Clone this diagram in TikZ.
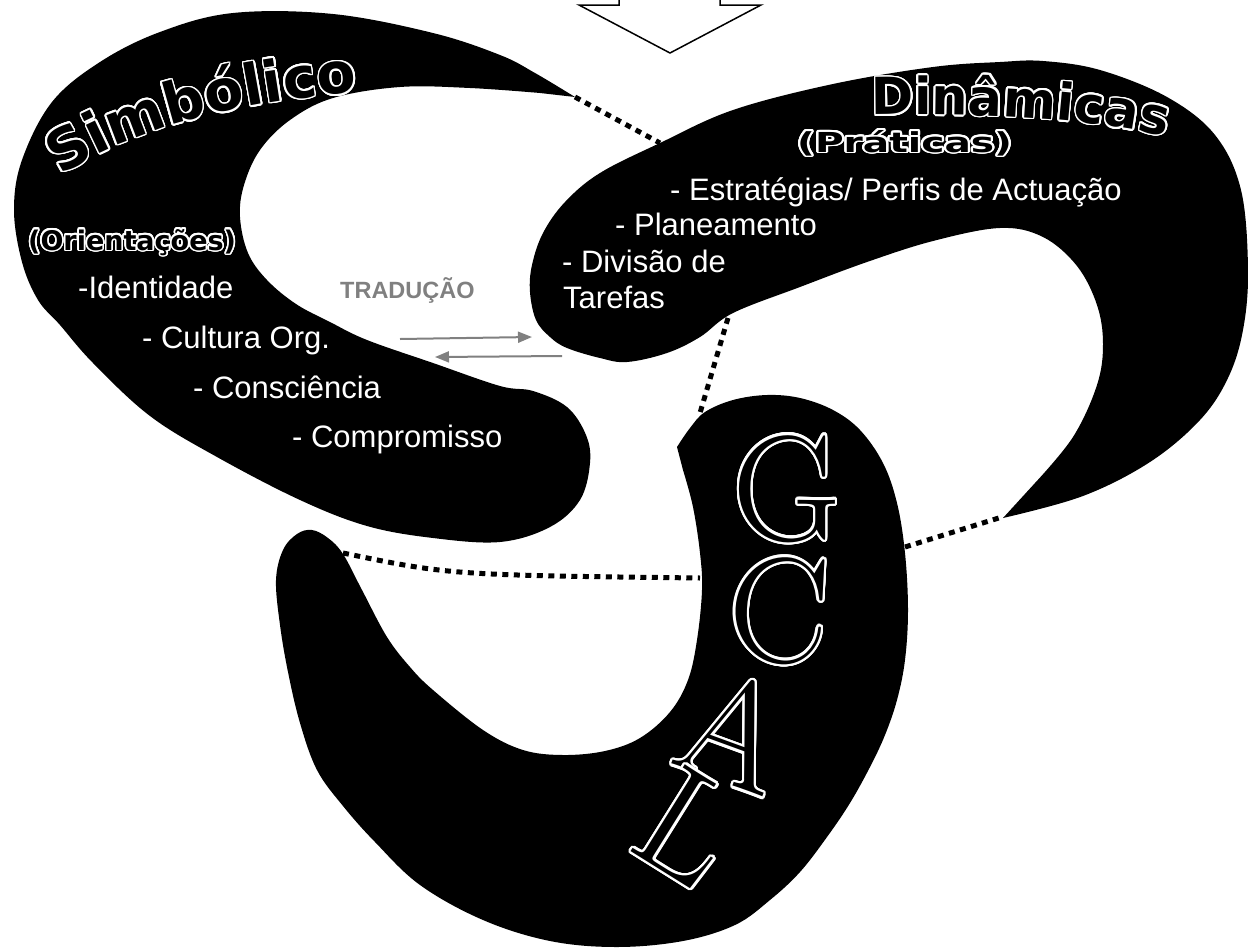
\documentclass[tikz,border=0pt]{standalone}
\usepackage{fontspec}
\usepackage{xcolor}
\usepackage{graphicx}
\usepackage{contour}
\usepackage{tikz}
\usetikzlibrary{arrows.meta,decorations.text,positioning}
\newfontfamily\itemfont{Liberation Sans}
\newfontfamily\headfont{DejaVu Sans}
\contourlength{1.6pt}
\contournumber{24}
\newcommand\outl[1]{\contour{white}{#1}}
\newcommand\outlbig[1]{{\contourlength{2.4pt}\contour{white}{#1}}}

\begin{document}
\begin{tikzpicture}[x=1pt, y=-1pt,
    blob/.style={fill=black},
    item/.style={text=white, anchor=base west, inner sep=0pt, font=\itemfont\fontsize{31}{36}\selectfont},
    head/.style={anchor=base west, inner sep=0pt, font=\headfont\bfseries\fontsize{27}{32}\selectfont},
    link/.style={line width=5pt, dash pattern=on 6pt off 5.5pt},
    swap/.style={draw=gray, line width=2pt, -{Triangle[length=14pt,width=11pt]}},
    letter/.style={inner sep=0pt, font=\rmfamily\fontsize{150}{150}\selectfont},
    curved/.style 2 args={decorate, decoration={text effects along path, text={#1}, text align=center,
        text effects/.cd, text along path, character command=\outl,
        characters={inner sep=0pt, font=\headfont\bfseries\fontsize{#2}{#2}\selectfont}}}]
    \useasboundingbox (0,0) rectangle (1248,948);

    \draw[line width=1.5pt, fill=white, line join=miter] (619,-10) -- (619,5) -- (579,5) -- (670,53) -- (761,5) -- (720,5) -- (720,-10);

    \fill[blob] plot[smooth, tension=0.6] coordinates {(575,97) (535,73) (500,55) (433,33) (333,14) (233,13) (160,32) (100,62) (52,102) (22,160) (14,210) (22,262) (38,300) (60,325) (93,363) (150,416) (217,457) (300,500) (367,526) (433,538) (500,542) (550,527) (580,500) (590,463) (586,435) (567,407) (533,391) (500,386) (433,363) (367,340) (330,322) (296,304) (267,280) (248,253) (240,217) (244,185) (260,150) (290,120) (333,98) (400,87) (470,88) (540,93)} -- cycle;

    \fill[blob] plot[smooth, tension=0.6] coordinates {(1003,518) (1083,496) (1150,462) (1200,420) (1228,378) (1243,330) (1248,270) (1241,190) (1215,135) (1167,97) (1100,70) (1043,61) (1000,62) (933,67) (833,84) (733,110) (660,143) (600,173) (565,202) (543,233) (532,265) (530,292) (536,320) (550,337) (567,348) (600,358) (627,362) (667,353) (700,337) (733,313) (800,287) (867,262) (933,241) (1000,228) (1043,237) (1077,266) (1097,305) (1103,344) (1097,385) (1073,437) (1035,483)} -- cycle;

    \fill[blob] plot[smooth, tension=0.6] coordinates {(677,447) (690,428) (705,412) (733,400) (767,395) (800,398) (833,410) (860,430) (883,463) (897,503) (905,553) (908,610) (905,660) (897,700) (885,735) (870,767) (850,803) (827,837) (800,872) (770,900) (735,925) (683,941) (617,947) (550,941) (483,920) (420,885) (375,842) (343,806) (317,770) (300,723) (288,672) (280,625) (276,580) (283,550) (297,534) (312,530) (328,538) (343,554) (362,590) (387,637) (410,667) (433,690) (483,730) (523,750) (563,755) (605,751) (640,738) (670,712) (688,680) (697,640) (702,590) (700,553) (693,507) (683,470)} -- cycle;

    \coordinate (simTip) at (575,97);
    \coordinate (dinTop) at (660,143);
    \coordinate (dinLow) at (728,318);
    \coordinate (gcalTop) at (700,413);
    \coordinate (gcalArm) at (343,553);
    \coordinate (gcalIn) at (700,578);
    \coordinate (gcalOut) at (905,547);
    \coordinate (dinTip) at (1002,517);
    \draw[link] (simTip) -- (dinTop);
    \draw[link] (dinLow) -- (gcalTop);
    \draw[link] (gcalArm) .. controls (450,575) .. (gcalIn);
    \draw[link] (gcalOut) -- (dinTip);

    \path[curved={Simbólico}{57}] (60,176) .. controls (138,126) and (238,102) .. (358,92);
    \path[curved={Dinâmicas}{51}] (870,115) .. controls (980,113) and (1085,117) .. (1168,137);

    \node[head] (orient) at (28,250) {\outl{(Orientações)}};
    \node[item] (ident) at (78,298) {-Identidade};
    \node[item] (cult) at (142,348) {- Cultura Org.};
    \node[item] (consc) at (193,398) {- Consciência};
    \node[item] (comp) at (292,447) {- Compromisso};

    \node[anchor=base west, inner sep=0pt, text=gray, font=\itemfont\bfseries\fontsize{23.5}{28}\selectfont] (trad) at (340,298) {TRADUÇÃO};
    \coordinate (trA) at (400,339);
    \coordinate (trB) at (532,337);
    \coordinate (trC) at (562,356);
    \coordinate (trD) at (435,357);
    \draw[swap] (trA) -- (trB);
    \draw[swap] (trC) -- (trD);

    \node[head, font=\headfont\bfseries\fontsize{27.5}{32}\selectfont] (prat) at (797,152) {\scalebox{1.42}[1]{\outl{(Práticas)}}};
    \node[item] (estr) at (670,200) {- Estratégias/ Perfis de Actuação};
    \node[item] (plan) at (615,235) {- Planeamento};
    \node[item] (divi) at (562,272) {- Divisão de};
    \node[item] (taref) at (563,308) {Tarefas};

    \node[letter] (g) at (787,490) {\outlbig{G}};
    \node[letter, rotate=-3] (c) at (779,612) {\outlbig{C}};
    \node[letter, rotate=-20] (a) at (735,732) {\outlbig{A}};
    \node[letter, rotate=-32] (l) at (688,828) {\outlbig{L}};
\end{tikzpicture}
\end{document}
